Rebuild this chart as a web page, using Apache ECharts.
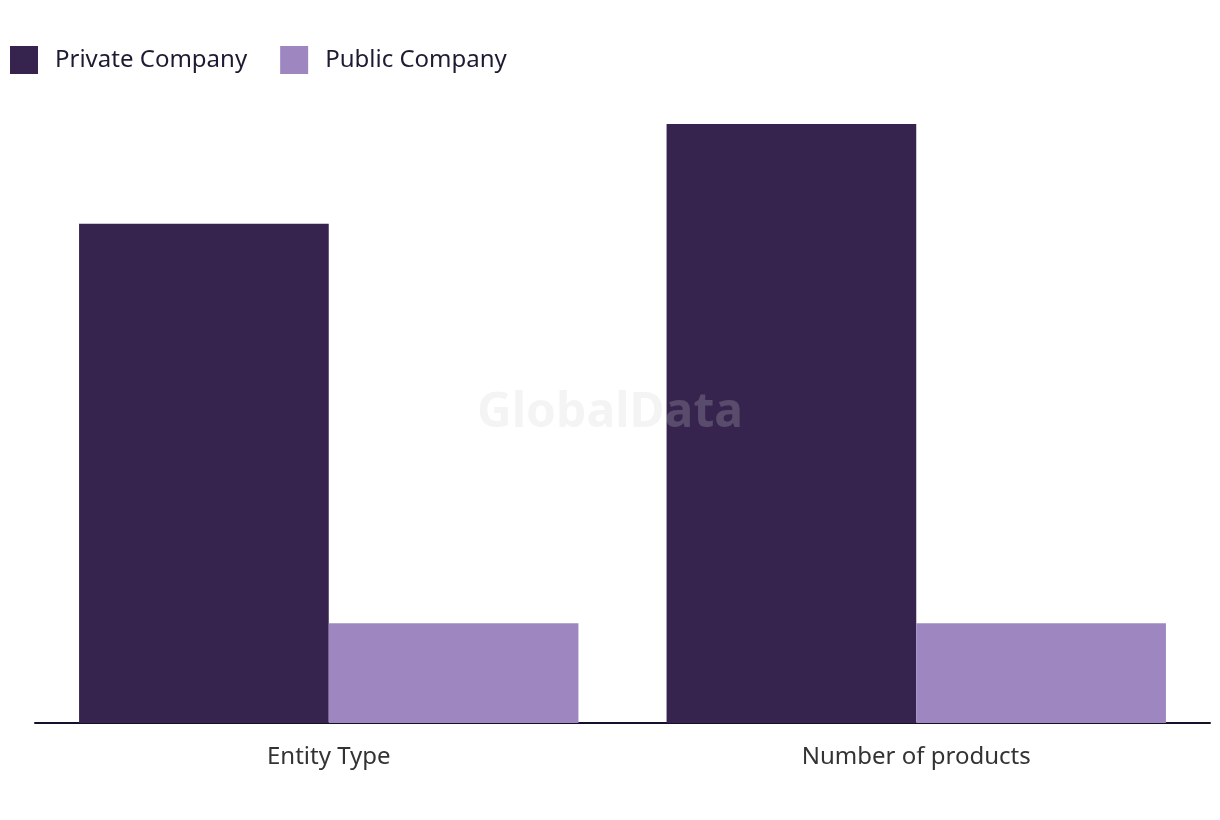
<!DOCTYPE html>
<html>
<head>
<meta charset="utf-8">
<script src="https://cdn.jsdelivr.net/npm/echarts@6/dist/echarts.min.js"></script>
<style>html,body{margin:0;padding:0;background:#fff;}#c{width:1220px;height:820px;}</style>
</head>
<body>
<div id="c"></div>
<script>
const categories = ['Entity Type', 'Number of products'];
const seriesNames = ['Private Company', 'Public Company'];
const privateValues = [5, 6];
const publicValues = [1, 1];
const colors = ['#36244f', '#9e87c0'];

const chart = echarts.init(document.getElementById('c'));
chart.setOption({
  animation: false,
  color: colors,
  legend: {
    left: 10, top: 46, padding: 0, itemWidth: 28, itemHeight: 28, itemGap: 33,
    icon: 'rect',
    textStyle: { fontFamily: 'Noto Sans', fontSize: 24, color: '#1e1a33', padding: [0, 0, 0, 12] },
    data: seriesNames
  },
  grid: { left: 35, right: 10, top: 124, bottom: 97, containLabel: false },
  xAxis: {
    type: 'category', data: categories,
    axisLine: { lineStyle: { color: '#16112a', width: 2 } },
    axisTick: { show: false },
    axisLabel: { fontFamily: 'Noto Sans', fontSize: 24, color: '#333333', margin: 22 }
  },
  yAxis: { type: 'value', min: 0, max: 6, show: false, splitLine: { show: false } },
  graphic: [{
    type: 'text', left: 'center', top: 389, z: 100,
    style: { text: 'GlobalData', font: 'bold 48px "Noto Sans"', fill: 'rgba(208,208,208,0.23)' }
  }],
  series: [
    { name: seriesNames[0], type: 'bar', data: privateValues, barGap: '0%', barCategoryGap: '15%' },
    { name: seriesNames[1], type: 'bar', data: publicValues, barGap: '0%', barCategoryGap: '15%' }
  ]
});
</script>
</body>
</html>
